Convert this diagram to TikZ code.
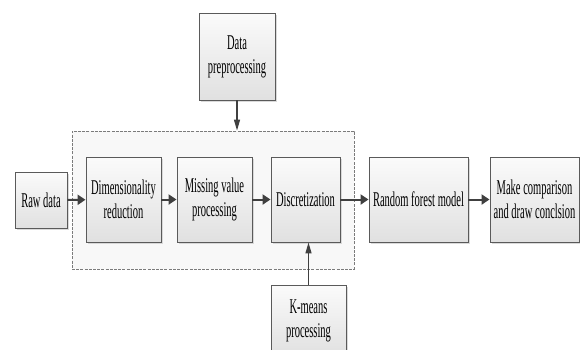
\documentclass[tikz,border=0pt]{standalone}
\usepackage{fontspec}
\setmainfont{Liberation Serif}[FakeStretch=0.5]
\usetikzlibrary{arrows.meta,shadows}

\definecolor{boxfill}{HTML}{F4F4F4}
\definecolor{boxline}{HTML}{5A5A5A}
\definecolor{groupfill}{HTML}{F8F8F8}
\definecolor{arrowgray}{HTML}{404040}

\tikzset{
  stepbox/.style={draw=boxline, line width=0.9pt, fill=boxfill,
    top color=white!60!boxfill, bottom color=boxfill!92!black,
    drop shadow={shadow xshift=1.8pt, shadow yshift=-1.8pt, fill=black!18, opacity=0.8},
    align=center, inner sep=0pt,
    font=\fontsize{21}{24}\selectfont},
  groupbox/.style={draw=boxline!80, line width=0.8pt, fill=groupfill,
    dash pattern=on 3pt off 1.2pt, inner sep=0pt},
  flow/.style={draw=arrowgray, line width=2pt,
    -{Triangle[length=8pt,width=10pt]}},
  feed/.style={draw=arrowgray, line width=1.3pt,
    -{Triangle[length=11pt,width=6pt]}}
}

\begin{document}
\begin{tikzpicture}[x=1pt,y=-1pt]
  \useasboundingbox (0,0) rectangle (580,349);

  % dashed frame around the preprocessing stages
  \node[groupbox, minimum width=282pt, minimum height=138pt] (grp) at (213,200) {};

  % main pipeline
  \node[stepbox, minimum width=52pt, minimum height=56pt] (raw) at (41,200) {Raw data};
  \node[stepbox, minimum width=75pt, minimum height=85pt] (dim) at (123.5,199.5) {Dimensionality\\reduction};
  \node[stepbox, minimum width=75pt, minimum height=85pt] (miss) at (214.5,199.5) {Missing value\\processing};
  \node[stepbox, minimum width=69pt, minimum height=85pt] (disc) at (305.5,199.5) {Discretization};
  \node[stepbox, minimum width=99pt, minimum height=85pt] (rf) at (418.5,199.5) {Random forest model};
  \node[stepbox, minimum width=89pt, minimum height=85pt] (make) at (534.5,199.5) {Make comparison\\and draw conclsion};

  % side inputs
  \node[stepbox, minimum width=76pt, minimum height=87pt] (pre) at (237,56.5) {Data\\preprocessing};
  \node[stepbox, minimum width=75pt, minimum height=71pt] (km) at (308.5,320.5) {K-means\\processing};

  % connectors
  \draw[flow] (raw) -- (dim);
  \draw[flow] (dim) -- (miss);
  \draw[flow] (miss) -- (disc);
  \draw[flow] (disc) -- (rf);
  \draw[flow] (rf) -- (make);
  \draw[feed] (pre.south) -- (pre.south |- grp.north);
  \draw[feed] (km.north) -- (km.north |- disc.south);
\end{tikzpicture}
\end{document}
